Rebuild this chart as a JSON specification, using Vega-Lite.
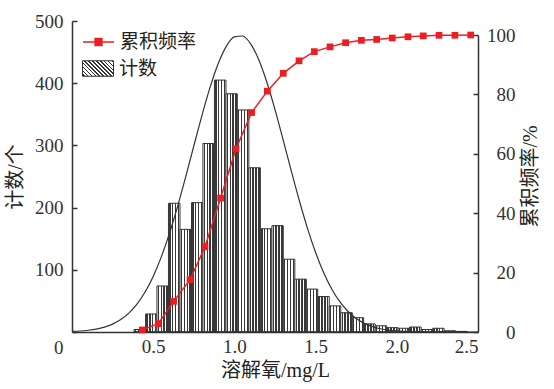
{
  "$schema": "https://vega.github.io/schema/vega-lite/v6.json",
  "width": 406,
  "height": 311,
  "autosize": "none",
  "padding": {"left": 72, "top": 21, "right": 76, "bottom": 57},
  "background": "white",
  "config": {
    "view": {"stroke": null},
    "axis": {
      "grid": false,
      "domainColor": "#333333",
      "domainWidth": 1.5,
      "tickColor": "#333333",
      "tickWidth": 1.5,
      "labelColor": "#333333",
      "titleColor": "#222222",
      "labelFont": "Liberation Serif",
      "labelFontSize": 19,
      "titleFont": "Liberation Serif, Noto Sans CJK SC",
      "titleFontSize": 20,
      "titleFontWeight": "normal"
    }
  },
  "datasets": {
    "hist": [
      {"x0": 0.382, "x1": 0.453, "count": 4},
      {"x0": 0.453, "x1": 0.523, "count": 29},
      {"x0": 0.523, "x1": 0.594, "count": 74},
      {"x0": 0.594, "x1": 0.665, "count": 207},
      {"x0": 0.665, "x1": 0.736, "count": 165},
      {"x0": 0.736, "x1": 0.806, "count": 208},
      {"x0": 0.806, "x1": 0.877, "count": 303},
      {"x0": 0.877, "x1": 0.948, "count": 405},
      {"x0": 0.948, "x1": 1.018, "count": 383},
      {"x0": 1.018, "x1": 1.089, "count": 357},
      {"x0": 1.089, "x1": 1.160, "count": 264},
      {"x0": 1.160, "x1": 1.231, "count": 166},
      {"x0": 1.231, "x1": 1.301, "count": 171},
      {"x0": 1.301, "x1": 1.372, "count": 117},
      {"x0": 1.372, "x1": 1.443, "count": 85},
      {"x0": 1.443, "x1": 1.513, "count": 69},
      {"x0": 1.513, "x1": 1.584, "count": 57},
      {"x0": 1.584, "x1": 1.655, "count": 42},
      {"x0": 1.655, "x1": 1.726, "count": 31},
      {"x0": 1.726, "x1": 1.796, "count": 23},
      {"x0": 1.796, "x1": 1.867, "count": 13},
      {"x0": 1.867, "x1": 1.938, "count": 10},
      {"x0": 1.938, "x1": 2.008, "count": 7},
      {"x0": 2.008, "x1": 2.079, "count": 6},
      {"x0": 2.079, "x1": 2.150, "count": 8},
      {"x0": 2.150, "x1": 2.221, "count": 4},
      {"x0": 2.221, "x1": 2.291, "count": 6},
      {"x0": 2.291, "x1": 2.362, "count": 2},
      {"x0": 2.362, "x1": 2.433, "count": 1}
    ],
    "normal": [
      {"x": 0.0, "y": 0.9}, {"x": 0.05, "y": 1.6}, {"x": 0.1, "y": 2.8}, {"x": 0.15, "y": 4.7},
      {"x": 0.2, "y": 7.9}, {"x": 0.25, "y": 12.7}, {"x": 0.3, "y": 19.9}, {"x": 0.35, "y": 30.3},
      {"x": 0.4, "y": 44.8}, {"x": 0.45, "y": 64.2}, {"x": 0.5, "y": 89.4}, {"x": 0.55, "y": 120.8},
      {"x": 0.6, "y": 158.5}, {"x": 0.65, "y": 201.8}, {"x": 0.7, "y": 249.3}, {"x": 0.75, "y": 299.0},
      {"x": 0.8, "y": 348.0}, {"x": 0.85, "y": 393.2}, {"x": 0.9, "y": 431.3}, {"x": 0.95, "y": 459.2},
      {"x": 1.0, "y": 474.4}, {"x": 1.05, "y": 475.9}, {"x": 1.1, "y": 463.3}, {"x": 1.15, "y": 437.8},
      {"x": 1.2, "y": 401.5}, {"x": 1.25, "y": 357.5}, {"x": 1.3, "y": 308.9}, {"x": 1.35, "y": 259.1},
      {"x": 1.4, "y": 211.0}, {"x": 1.45, "y": 166.7}, {"x": 1.5, "y": 127.9}, {"x": 1.55, "y": 95.2},
      {"x": 1.6, "y": 68.8}, {"x": 1.65, "y": 48.3}, {"x": 1.7, "y": 32.9}, {"x": 1.75, "y": 21.7},
      {"x": 1.8, "y": 13.9}, {"x": 1.85, "y": 8.7}, {"x": 1.9, "y": 5.2}, {"x": 1.95, "y": 3.1},
      {"x": 2.0, "y": 1.8}, {"x": 2.05, "y": 1.0}, {"x": 2.1, "y": 0.5}, {"x": 2.15, "y": 0.3},
      {"x": 2.2, "y": 0.15}, {"x": 2.25, "y": 0.08}, {"x": 2.3, "y": 0.04}, {"x": 2.35, "y": 0.02},
      {"x": 2.4, "y": 0.01}, {"x": 2.45, "y": 0.0}, {"x": 2.5, "y": 0.0}
    ],
    "cum": [
      {"x": 0.433, "pct": 0.7}, {"x": 0.531, "pct": 2.8}, {"x": 0.626, "pct": 10.3},
      {"x": 0.727, "pct": 17.6}, {"x": 0.819, "pct": 28.7}, {"x": 0.915, "pct": 45.1},
      {"x": 1.010, "pct": 61.7}, {"x": 1.106, "pct": 73.9}, {"x": 1.203, "pct": 81.1},
      {"x": 1.301, "pct": 87.1}, {"x": 1.398, "pct": 91.3}, {"x": 1.492, "pct": 94.4},
      {"x": 1.589, "pct": 96.0}, {"x": 1.685, "pct": 97.4}, {"x": 1.782, "pct": 98.2},
      {"x": 1.876, "pct": 98.5}, {"x": 1.972, "pct": 99.0}, {"x": 2.069, "pct": 99.4},
      {"x": 2.163, "pct": 99.7}, {"x": 2.260, "pct": 99.9}, {"x": 2.358, "pct": 99.9},
      {"x": 2.455, "pct": 100}
    ]
  },
  "layer": [
    {
      "layer": [
        {
          "data": {"name": "hist"},
          "mark": {
            "type": "rect",
            "strokeWidth": 1,
            "stroke": "#333333",
            "fill": {
              "gradient": "linear", "x1": 0, "y1": 0, "x2": 1, "y2": 0,
              "stops": [
                {"offset": 0, "color": "#ffffff"}, {"offset": 0.065, "color": "#ffffff"},
                {"offset": 0.065, "color": "#383838"}, {"offset": 0.185, "color": "#383838"},
                {"offset": 0.185, "color": "#ffffff"}, {"offset": 0.315, "color": "#ffffff"},
                {"offset": 0.315, "color": "#383838"}, {"offset": 0.435, "color": "#383838"},
                {"offset": 0.435, "color": "#ffffff"}, {"offset": 0.565, "color": "#ffffff"},
                {"offset": 0.565, "color": "#383838"}, {"offset": 0.685, "color": "#383838"},
                {"offset": 0.685, "color": "#ffffff"}, {"offset": 0.815, "color": "#ffffff"},
                {"offset": 0.815, "color": "#383838"}, {"offset": 0.935, "color": "#383838"},
                {"offset": 0.935, "color": "#ffffff"}, {"offset": 1, "color": "#ffffff"}
              ]
            }
          },
          "encoding": {
            "x": {
              "field": "x0", "type": "quantitative", "title": "溶解氧/mg/L",
              "scale": {"domain": [0, 2.5], "nice": false, "zero": false},
              "axis": {
                "values": [0.5, 1, 1.5, 2, 2.5],
                "ticks": false,
                "labelPadding": 5,
                "titlePadding": 4,
                "format": ".1f",
                "labelAlign": {"condition": {"test": "datum.value === 2.5", "value": "right"}, "value": "center"}
              }
            },
            "x2": {"field": "x1"},
            "y": {
              "field": "count", "type": "quantitative", "title": "计数/个",
              "scale": {"domain": [0, 500], "nice": false},
              "axis": {
                "values": [0, 100, 200, 300, 400, 500],
                "tickSize": -5,
                "labelPadding": 14,
                "titlePadding": 9,
                "labelOffset": {"condition": {"test": "datum.value === 0", "value": 15}, "value": 0}
              }
            },
            "y2": {"datum": 0}
          }
        },
        {
          "data": {"name": "hist"},
          "mark": {
            "type": "rect",
            "strokeWidth": 1,
            "fill": {
              "gradient": "linear", "x1": 0, "y1": 1, "x2": 1.2, "y2": 0.4,
              "stops": [
                {"offset": 0, "color": "#ffffff"}, {"offset": 0.025, "color": "#ffffff"}, {"offset": 0.025, "color": "#333333"}, {"offset": 0.06, "color": "#333333"}, {"offset": 0.06, "color": "#ffffff"},
                {"offset": 0.108, "color": "#ffffff"}, {"offset": 0.108, "color": "#333333"}, {"offset": 0.143, "color": "#333333"}, {"offset": 0.143, "color": "#ffffff"},
                {"offset": 0.192, "color": "#ffffff"}, {"offset": 0.192, "color": "#333333"}, {"offset": 0.227, "color": "#333333"}, {"offset": 0.227, "color": "#ffffff"},
                {"offset": 0.275, "color": "#ffffff"}, {"offset": 0.275, "color": "#333333"}, {"offset": 0.31, "color": "#333333"}, {"offset": 0.31, "color": "#ffffff"},
                {"offset": 0.358, "color": "#ffffff"}, {"offset": 0.358, "color": "#333333"}, {"offset": 0.393, "color": "#333333"}, {"offset": 0.393, "color": "#ffffff"},
                {"offset": 0.442, "color": "#ffffff"}, {"offset": 0.442, "color": "#333333"}, {"offset": 0.477, "color": "#333333"}, {"offset": 0.477, "color": "#ffffff"},
                {"offset": 0.525, "color": "#ffffff"}, {"offset": 0.525, "color": "#333333"}, {"offset": 0.56, "color": "#333333"}, {"offset": 0.56, "color": "#ffffff"},
                {"offset": 0.608, "color": "#ffffff"}, {"offset": 0.608, "color": "#333333"}, {"offset": 0.643, "color": "#333333"}, {"offset": 0.643, "color": "#ffffff"},
                {"offset": 0.692, "color": "#ffffff"}, {"offset": 0.692, "color": "#333333"}, {"offset": 0.727, "color": "#333333"}, {"offset": 0.727, "color": "#ffffff"},
                {"offset": 0.775, "color": "#ffffff"}, {"offset": 0.775, "color": "#333333"}, {"offset": 0.81, "color": "#333333"}, {"offset": 0.81, "color": "#ffffff"},
                {"offset": 0.858, "color": "#ffffff"}, {"offset": 0.858, "color": "#333333"}, {"offset": 0.893, "color": "#333333"}, {"offset": 0.893, "color": "#ffffff"},
                {"offset": 0.942, "color": "#ffffff"}, {"offset": 0.942, "color": "#333333"}, {"offset": 0.977, "color": "#333333"}, {"offset": 0.977, "color": "#ffffff"},
                {"offset": 1, "color": "#ffffff"}
              ]
            }
          },
          "encoding": {
            "x": {"field": "x0", "type": "quantitative", "title": "溶解氧/mg/L"},
            "x2": {"field": "x1"},
            "y": {"datum": 0, "type": "quantitative", "title": "计数/个"},
            "y2": {"datum": 0},
            "stroke": {
              "datum": "计数", "type": "nominal",
              "scale": {"domain": ["计数"], "range": ["#333333"]},
              "legend": {
                "orient": "none", "legendX": 10, "legendY": 31.5, "title": null, "padding": 0,
                "symbolType": "M-1,-0.5H1V0.5H-1Z", "symbolSize": 961, "symbolStrokeWidth": 1,
                "labelFont": "Noto Sans CJK SC", "labelFontSize": 19, "labelColor": "#222222", "labelOffset": 5
              }
            }
          }
        },
        {
          "data": {"name": "normal"},
          "mark": {"type": "line", "color": "#333333", "strokeWidth": 1.2, "interpolate": "monotone"},
          "encoding": {
            "x": {"field": "x", "type": "quantitative", "title": "溶解氧/mg/L"},
            "y": {"field": "y", "type": "quantitative", "title": "计数/个"}
          }
        }
      ]
    },
    {
      "data": {"name": "cum"},
      "mark": {"type": "line", "strokeWidth": 1.5, "point": {"shape": "square", "filled": true, "size": 45}},
      "encoding": {
        "x": {"field": "x", "type": "quantitative", "title": "溶解氧/mg/L"},
        "y": {
          "field": "pct", "type": "quantitative", "title": "累积频率/%",
          "scale": {"domain": [0, 100], "range": [311, 14], "nice": false},
          "axis": {
            "orient": "right",
            "values": [0, 20, 40, 60, 80, 100],
            "tickSize": -5,
            "labelAlign": "right",
            "labelPadding": 42,
            "titlePadding": 5,
            "titleAngle": 270,
            "titleBaseline": "top",
            "titleY": 155
          }
        },
        "color": {
          "datum": "累积频率", "type": "nominal",
          "scale": {"domain": ["累积频率"], "range": ["#ee1d23"]},
          "legend": {
            "orient": "none", "legendX": 10, "legendY": 4.5, "title": null, "padding": 0,
            "symbolType": "M-1,0H1M-0.22,-0.22H0.22V0.22H-0.22Z", "symbolSize": 961, "symbolStrokeWidth": 1.5,
            "symbolFillColor": "#ee1d23",
            "labelFont": "Noto Sans CJK SC", "labelFontSize": 19, "labelColor": "#222222", "labelOffset": 5
          }
        }
      }
    }
  ],
  "resolve": {"scale": {"y": "independent"}}
}
